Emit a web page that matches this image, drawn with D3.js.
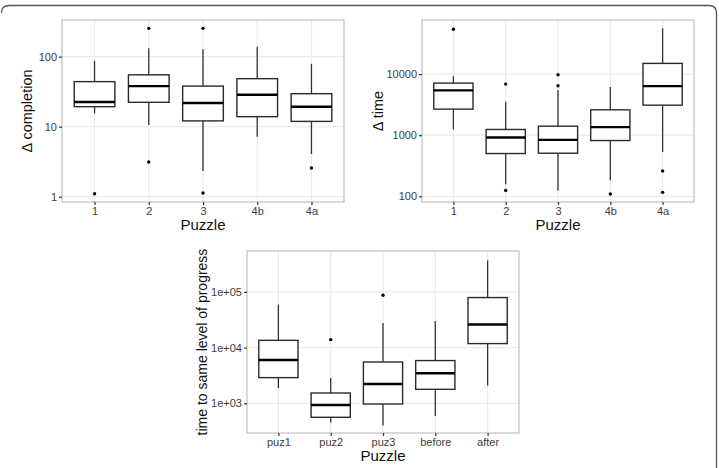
<!DOCTYPE html>
<html>
<head>
<meta charset="utf-8">
<script src="https://cdn.jsdelivr.net/npm/d3@7"></script>
<style>
body{margin:0;background:#fff;}
svg{display:block;font-family:"Liberation Sans",Arial,sans-serif;}
</style>
</head>
<body>
<script>
// box stats are [lower whisker, q1, median, q3, upper whisker]
const completionCats = ["1", "2", "3", "4b", "4a"];
const completionBoxes = [
  [15.5, 19.3, 22.5, 44, 87],
  [10.6, 22.3, 38, 55, 132],
  [2.33, 12.1, 21.8, 38, 128],
  [7.2, 13.9, 28.6, 48.5, 139],
  [4.07, 11.9, 19.3, 29.6, 79]
];
const completionOutliers = [["1", 1.1], ["2", 254], ["2", 3.13], ["3", 254], ["3", 1.13], ["4a", 2.57]];

const timeCats = ["1", "2", "3", "4b", "4a"];
const timeBoxes = [
  [1240, 2670, 5410, 7110, 9270],
  [157, 501, 916, 1240, 3520],
  [125, 507, 838, 1406, 5470],
  [183, 818, 1353, 2600, 6125],
  [532, 3100, 6350, 14960, 56100]
];
const timeOutliers = [["1", 54000], ["2", 6850], ["2", 125], ["3", 9750], ["3", 6430], ["4b", 109], ["4a", 260], ["4a", 116]];

const progressCats = ["puz1", "puz2", "puz3", "before", "after"];
const progressBoxes = [
  [1884, 2890, 5990, 13500, 59200],
  [450, 561, 932, 1531, 2847],
  [398, 971, 2220, 5510, 27700],
  [591, 1783, 3460, 5850, 30100],
  [2080, 11800, 25900, 79100, 369000]
];
const progressOutliers = [["puz2", 13900], ["puz3", 86900]];

const width = 719, height = 468;
const svg = d3.select("body").append("svg")
  .attr("width", width)
  .attr("height", height);

// partial rounded frame round the figure
svg.append("path")
  .attr("d", "M1.5,13 Q1.5,5.5 9,5.5 L709,5.5 Q716.5,5.5 716.5,13 L716.5,468")
  .attr("fill", "none")
  .attr("stroke", "#555")
  .attr("stroke-width", 1.3);

function drawPanel(p) {
  const g = svg.append("g");
  const x = d3.scalePoint().domain(p.cats).range([p.left, p.right]).padding(0.6);
  const y = d3.scaleLog().domain(p.domain).range([p.bottom, p.top]);
  const bw = x.step() * 0.75;

  // grid
  g.append("g").selectAll("line").data(p.ticks).enter().append("line")
    .attr("x1", p.left).attr("x2", p.right)
    .attr("y1", d => y(d)).attr("y2", d => y(d))
    .attr("stroke", "#ebebeb").attr("stroke-width", 1.2);
  g.append("g").selectAll("line").data(p.cats).enter().append("line")
    .attr("x1", d => x(d)).attr("x2", d => x(d))
    .attr("y1", p.top).attr("y2", p.bottom)
    .attr("stroke", "#ebebeb").attr("stroke-width", 1.2);

  // boxes
  const box = g.append("g").selectAll("g").data(p.boxes).enter().append("g")
    .attr("transform", (d, i) => `translate(${x(p.cats[i])},0)`);
  box.append("line")
    .attr("y1", d => y(d[0])).attr("y2", d => y(d[1]))
    .attr("stroke", "#333").attr("stroke-width", 1.3);
  box.append("line")
    .attr("y1", d => y(d[3])).attr("y2", d => y(d[4]))
    .attr("stroke", "#333").attr("stroke-width", 1.3);
  box.append("rect")
    .attr("x", -bw / 2).attr("width", bw)
    .attr("y", d => y(d[3])).attr("height", d => y(d[1]) - y(d[3]))
    .attr("fill", "#fff").attr("stroke", "#2a2a2a").attr("stroke-width", 1.4);
  box.append("line")
    .attr("x1", -bw / 2).attr("x2", bw / 2)
    .attr("y1", d => y(d[2])).attr("y2", d => y(d[2]))
    .attr("stroke", "#000").attr("stroke-width", 2.4);

  g.append("g").selectAll("circle").data(p.outliers).enter().append("circle")
    .attr("cx", d => x(d[0])).attr("cy", d => y(d[1]))
    .attr("r", 1.7).attr("fill", "#000");

  // panel border
  g.append("rect")
    .attr("x", p.left).attr("y", p.top)
    .attr("width", p.right - p.left).attr("height", p.bottom - p.top)
    .attr("fill", "none").attr("stroke", "#b3b3b3").attr("stroke-width", 1);

  // axes
  const ay = g.append("g").attr("transform", `translate(${p.left},0)`)
    .call(d3.axisLeft(y).tickValues(p.ticks).tickFormat(p.fmt).tickSize(3).tickPadding(2));
  const ax = g.append("g").attr("transform", `translate(0,${p.bottom})`)
    .call(d3.axisBottom(x).tickSize(3).tickPadding(2));
  [ay, ax].forEach(a => {
    a.select(".domain").remove();
    a.selectAll(".tick line").attr("stroke", "#333").attr("stroke-width", 1.2);
    a.selectAll(".tick text").attr("fill", "#3d3d3d")
      .style("font-size", "11px").style("font-family", "Liberation Sans, Arial, sans-serif");
  });

  g.append("text")
    .attr("x", (p.left + p.right) / 2).attr("y", p.bottom + 28)
    .attr("text-anchor", "middle").attr("font-size", 15).attr("fill", "#111")
    .text("Puzzle");
  g.append("text")
    .attr("transform", `translate(${p.ylabelX},${(p.top + p.bottom) / 2}) rotate(-90)`)
    .attr("text-anchor", "middle").attr("font-size", p.ylabelSize).attr("fill", "#111")
    .text(p.ylabel);
}

drawPanel({
  cats: completionCats, boxes: completionBoxes, outliers: completionOutliers,
  left: 62, right: 344, top: 20, bottom: 202,
  domain: [0.84, 334], ticks: [1, 10, 100], fmt: d3.format("d"),
  ylabel: "\u0394 completion", ylabelX: 32, ylabelSize: 14.5
});

drawPanel({
  cats: timeCats, boxes: timeBoxes, outliers: timeOutliers,
  left: 422, right: 694, top: 20, bottom: 202,
  domain: [80.7, 76700], ticks: [100, 1000, 10000], fmt: d3.format("d"),
  ylabel: "\u0394 time", ylabelX: 383, ylabelSize: 14.5
});

drawPanel({
  cats: progressCats, boxes: progressBoxes, outliers: progressOutliers,
  left: 247, right: 519, top: 251, bottom: 433,
  domain: [293, 542000], ticks: [1e3, 1e4, 1e5], fmt: d => "1e+0" + Math.round(Math.log10(d)),
  ylabel: "time to same level of progress", ylabelX: 207, ylabelSize: 14
});
</script>
</body>
</html>
